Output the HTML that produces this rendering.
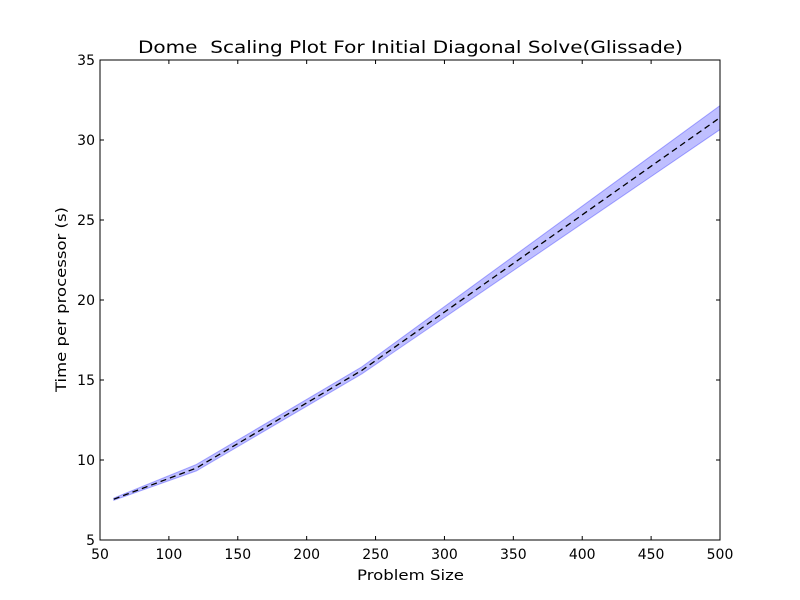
<!DOCTYPE html>
<html><head><meta charset="utf-8"><style>body{margin:0;background:#fff}svg{display:block}text{font-family:"DejaVu Sans","Liberation Sans",sans-serif;white-space:pre}</style></head>
<body>
<svg id="chart" width="800" height="600" viewBox="0 0 800 600"></svg>
<script>
const problemSizes=[60,120,240,500];
const meanTimes=[7.55,9.5,15.6,31.4];
const upperTimes=[7.62,9.72,15.82,32.15];
const lowerTimes=[7.48,9.32,15.38,30.65];
const xTicks=[50,100,150,200,250,300,350,400,450,500];
const yTicks=[5,10,15,20,25,30,35];
const NS='http://www.w3.org/2000/svg';
const svg=document.getElementById('chart');
const L=100,R=720,T=60,B=540;
const xs=v=>L+(v-50)/(500-50)*(R-L);
const ys=v=>B-(v-5)/(35-5)*(B-T);
function mk(tag,attrs,parent){const e=document.createElementNS(NS,tag);for(const k in attrs)e.setAttribute(k,attrs[k]);(parent||svg).appendChild(e);return e;}
let bp=problemSizes.map((x,i)=>xs(x)+','+ys(upperTimes[i]));
for(let i=problemSizes.length-1;i>=0;i--)bp.push(xs(problemSizes[i])+','+ys(lowerTimes[i]));
const band=mk('polygon',{points:bp.join(' '),fill:'#0000ff','fill-opacity':0.25,stroke:'#0000ff','stroke-opacity':0.3,'stroke-width':1});


const line=mk('polyline',{points:problemSizes.map((x,i)=>xs(x)+','+ys(meanTimes[i])).join(' '),fill:'none',stroke:'#000','stroke-width':1.3,'stroke-dasharray':'6,4'});


const frame=mk('rect',{x:L,y:T,width:R-L,height:B-T,fill:'none',stroke:'#000','stroke-width':1});


xTicks.forEach(v=>{const x=xs(v);
mk('line',{x1:x,x2:x,y1:B,y2:B-4,stroke:'#000'});mk('line',{x1:x,x2:x,y1:T,y2:T+4,stroke:'#000'});
const t=mk('text',{x:x,y:B+19,'text-anchor':'middle','font-size':14});t.textContent=v;

});
yTicks.forEach(v=>{const y=ys(v);
mk('line',{x1:L,x2:L+4,y1:y,y2:y,stroke:'#000'});mk('line',{x1:R,x2:R-4,y1:y,y2:y,stroke:'#000'});
const t=mk('text',{x:L-5,y:y+5,'text-anchor':'end','font-size':14});t.textContent=v;

});
const title=mk('text',{x:138,y:53,'font-size':17,textLength:545,lengthAdjust:'spacingAndGlyphs'});title.textContent='Dome  Scaling Plot For Initial Diagonal Solve(Glissade)';


const xl=mk('text',{x:357,y:580,'font-size':14,textLength:107,lengthAdjust:'spacingAndGlyphs'});xl.textContent='Problem Size';


const yl=mk('text',{x:0,y:0,'font-size':14,textLength:185,lengthAdjust:'spacingAndGlyphs',transform:'translate(66 392) rotate(-90)'});yl.textContent='Time per processor (s)';


</script>
</body></html>
